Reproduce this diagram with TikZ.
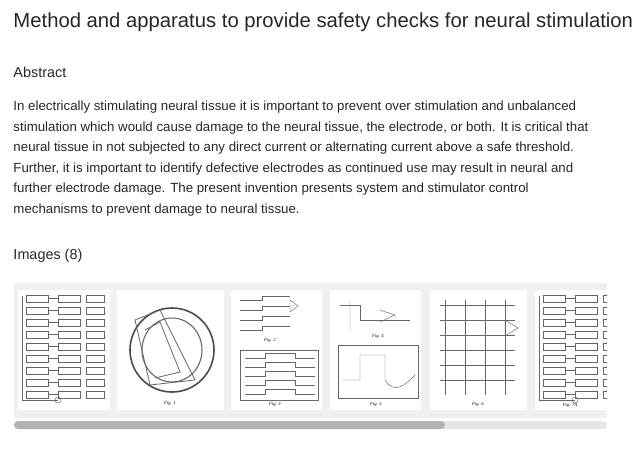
\documentclass[tikz,border=0pt]{standalone}
\usepackage{fontspec}
\setmainfont{Liberation Sans}
\newfontfamily\figfont{Liberation Serif}
\tikzset{every picture/.style={line width=0.75pt}}
\tikzset{
  bodytext/.style={anchor=west,inner sep=0pt,font=\fontsize{9.95}{11}\selectfont,text=black!85},
  thumb/.style={draw=none,fill=white},
  sketch/.style={draw=black!60,line width=0.35pt},
  figlabel/.style={inner sep=0pt,font=\figfont\itshape\fontsize{3.5}{4}\selectfont}
}
\begin{document}
\begin{tikzpicture}[x=0.75pt,y=0.75pt,yscale=-1,xscale=1]
\useasboundingbox (0,0) rectangle (638,461);
% Title
\node (title) [anchor=west,inner sep=0pt,font=\fontsize{15.2}{16}\selectfont,text=black!85] at (13,22) {Method and apparatus to provide safety checks for neural stimulation};
% Heading
\node (abs) [anchor=west,inner sep=0pt,font=\fontsize{10.8}{12}\selectfont,text=black!85] at (13,72) {Abstract};
% Abstract text
\node (l1) [bodytext] at (13,107) {In electrically stimulating neural tissue it is important to prevent over stimulation and unbalanced};
\node (l2) [bodytext] at (13,128) {stimulation which would cause damage to the neural tissue, the electrode, or both. It is critical that};
\node (l3) [bodytext] at (13,148) {neural tissue in not subjected to any direct current or alternating current above a safe threshold.};
\node (l4) [bodytext] at (13,169) {Further, it is important to identify defective electrodes as continued use may result in neural and};
\node (l5) [bodytext] at (13,189) {further electrode damage. The present invention presents system and stimulator control};
\node (l6) [bodytext] at (13,210) {mechanisms to prevent damage to neural tissue.};
% Images heading
\node (img) [anchor=west,inner sep=0pt,font=\fontsize{10.8}{12}\selectfont,text=black!85] at (13,256) {Images (8)};
% Strip
\fill[black!6] (14,283) rectangle (607,418);
\begin{scope}
\clip (14,283) rectangle (607,418);
% thumbnails
\foreach \xa/\xb in {18/110,117/224,231/322,330/421,430/527,535/630}
  \fill[thumb] (\xa,290) rectangle (\xb,410);
% flowchart thumbnails
\foreach \xo in {18,535}{
  \foreach \r in {0,...,8}{
    \draw[sketch] (\xo+8,295+\r*12) rectangle (\xo+30,302+\r*12);
    \draw[sketch] (\xo+40,295+\r*12) rectangle (\xo+62,302+\r*12);
    \draw[sketch] (\xo+68,295+\r*12) rectangle (\xo+86,302+\r*12);
    \draw[sketch] (\xo+30,298.5+\r*12) -- (\xo+40,298.5+\r*12);
  }
  \draw[sketch] (\xo+4,296) -- (\xo+4,400) -- (\xo+40,400);
  \draw[sketch] (\xo+40,400) circle (3);
}
\node[figlabel] (f7a) at (570,405) {Fig. 7A};
% device drawing
\draw[black!70,line width=1.2pt] (172,350) ellipse (42 and 42);
\draw[black!60,line width=0.8pt] (172,350) ellipse (30 and 32);
\draw[black!60,line width=0.6pt] (135,320) -- (160,310) -- (195,380) -- (150,385) -- cycle;
\draw[black!60,line width=0.6pt] (145,330) -- (160,322) -- (180,372) -- (155,378);
\node[figlabel] (f1) at (170,403) {Fig. 1};
% waveform thumbnails
\foreach \r in {0,...,3}
  \draw[sketch] (240,300+\r*10) -- (262,300+\r*10) -- (262,296+\r*10) -- (290,296+\r*10);
\draw[sketch] (290,300) -- (298,306) -- (290,312) -- cycle;
\node[figlabel] (f2) at (270,340) {Fig. 2};
\draw[sketch] (240,350) rectangle (318,400);
\foreach \r in {0,...,4}
  \draw[sketch] (245,358+\r*9) -- (265,358+\r*9) -- (265,353+\r*9) -- (295,353+\r*9) -- (295,358+\r*9) -- (315,358+\r*9);
\node[figlabel] (f3) at (275,404) {Fig. 3};
\draw[sketch] (340,305) -- (360,305) -- (360,320) -- (410,320);
\draw[sketch] (350,300) -- (350,330) (380,310) -- (395,315) -- (380,322);
\node[figlabel] (f4) at (378,336) {Fig. 4};
\draw[sketch] (338,345) rectangle (418,398);
\draw[sketch] (342,380) -- (360,380) -- (360,355) -- (385,355) -- (385,380) .. controls (395,395) and (405,385) .. (415,375);
\node[figlabel] (f5) at (376,404) {Fig. 5};
% circuit thumbnail
\foreach \c in {445,465,485,505}
  \draw[sketch] (\c,300) -- (\c,395);
\foreach \r in {0,...,5}
  \draw[sketch] (440,305+\r*15) -- (515,305+\r*15);
\draw[sketch] (505,320) -- (518,328) -- (505,336) -- cycle;
\node[figlabel] (f6) at (478,404) {Fig. 6};
\end{scope}
% scrollbar
\fill[black!10,rounded corners=3pt] (14,421) rectangle (607,429);
\fill[black!30,rounded corners=3pt] (14,421) rectangle (445,429);
\end{tikzpicture}
\end{document}
